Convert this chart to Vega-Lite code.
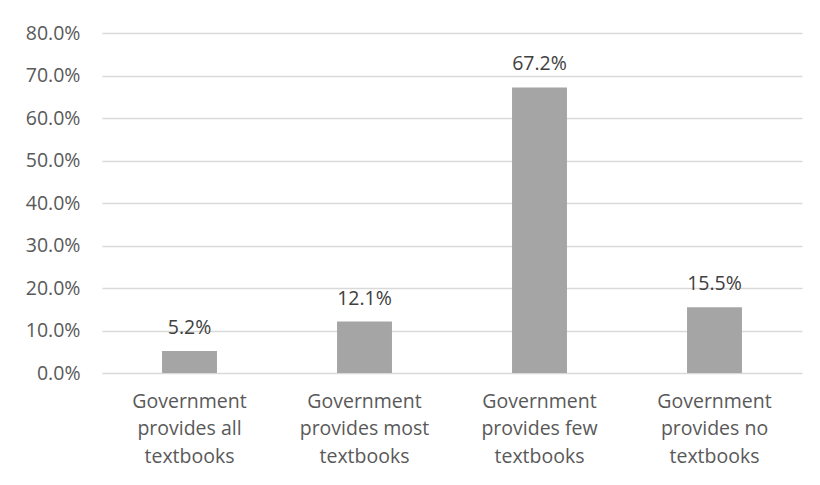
{
  "$schema": "https://vega.github.io/schema/vega-lite/v6.json",
  "width": 700,
  "height": 340,
  "autosize": "none",
  "padding": {"left": 102, "top": 33, "right": 18, "bottom": 112},
  "background": "white",
  "config": {
    "view": {"stroke": null},
    "font": "Open Sans"
  },
  "data": {
    "values": [
      {"category": "Government provides all textbooks", "share": 0.052},
      {"category": "Government provides most textbooks", "share": 0.121},
      {"category": "Government provides few textbooks", "share": 0.672},
      {"category": "Government provides no textbooks", "share": 0.155}
    ]
  },
  "encoding": {
    "x": {
      "field": "category",
      "type": "nominal",
      "sort": null,
      "scale": {"paddingInner": 0.686, "paddingOuter": 0.343},
      "axis": {
        "title": null,
        "labelAngle": 0,
        "domain": false,
        "ticks": false,
        "labelFont": "Open Sans",
        "labelFontSize": 19.5,
        "labelColor": "#595959",
        "labelLineHeight": 27.5,
        "labelPadding": 19,
        "labelExpr": "['Government', replace(replace(datum.value, 'Government ', ''), ' textbooks', ''), 'textbooks']"
      }
    },
    "y": {
      "field": "share",
      "type": "quantitative",
      "scale": {"domain": [0, 0.8]},
      "axis": {
        "title": null,
        "format": ".1%",
        "values": [0, 0.1, 0.2, 0.3, 0.4, 0.5, 0.6, 0.7, 0.8],
        "domain": false,
        "ticks": false,
        "grid": true,
        "gridColor": "#D9D9D9",
        "gridWidth": 1.3,
        "labelFont": "Open Sans",
        "labelFontSize": 19.5,
        "labelColor": "#595959",
        "labelPadding": 22
      }
    }
  },
  "layer": [
    {"mark": {"type": "bar", "color": "#A5A5A5"}},
    {
      "mark": {"type": "text", "baseline": "alphabetic", "dy": -17, "fontSize": 19.5, "color": "#404040", "font": "Open Sans"},
      "encoding": {"text": {"field": "share", "type": "quantitative", "format": ".1%"}}
    }
  ]
}
